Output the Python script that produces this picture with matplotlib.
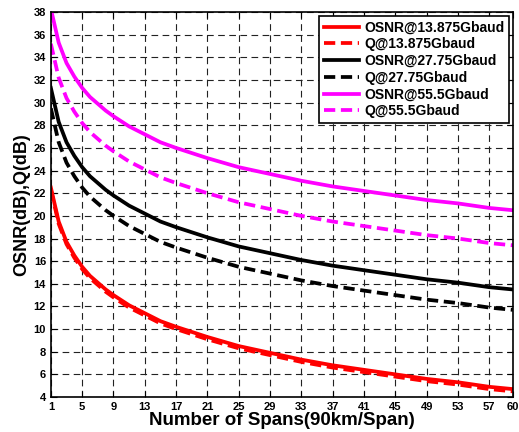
import matplotlib
matplotlib.use('Agg')
import matplotlib.pyplot as plt

plt.rcParams['font.family'] = ['Liberation Sans', 'DejaVu Sans']
plt.rcParams['font.weight'] = 'bold'

spans = [1, 2, 3, 4, 5, 6, 7, 8, 9, 11, 13, 15, 17, 21, 25, 29, 33, 37, 41, 45, 49, 53, 57, 60]

osnr_13 = [22.5, 19.5, 17.7, 16.5, 15.5, 14.7, 14.1, 13.5, 13.0, 12.1, 11.4, 10.7, 10.2,
           9.3, 8.5, 7.9, 7.3, 6.8, 6.4, 6.0, 5.6, 5.3, 4.9, 4.7]
q_13 = [22.3, 19.3, 17.5, 16.3, 15.3, 14.5, 13.9, 13.3, 12.8, 11.9, 11.2, 10.5, 10.0,
        9.1, 8.3, 7.7, 7.1, 6.6, 6.2, 5.8, 5.4, 5.1, 4.7, 4.5]
osnr_27 = [31.3, 28.3, 26.5, 25.3, 24.3, 23.5, 22.9, 22.3, 21.8, 20.9, 20.2, 19.5, 19.0,
           18.1, 17.3, 16.7, 16.1, 15.6, 15.2, 14.8, 14.4, 14.1, 13.7, 13.5]
q_27 = [29.5, 26.5, 24.7, 23.5, 22.5, 21.7, 21.1, 20.5, 20.0, 19.1, 18.4, 17.7, 17.2,
        16.3, 15.5, 14.9, 14.3, 13.8, 13.4, 13.0, 12.6, 12.3, 11.9, 11.7]
osnr_55 = [38.3, 35.3, 33.5, 32.3, 31.3, 30.5, 29.9, 29.3, 28.8, 27.9, 27.2, 26.5, 26.0,
           25.1, 24.3, 23.7, 23.1, 22.6, 22.2, 21.8, 21.4, 21.1, 20.7, 20.5]
q_55 = [35.2, 32.2, 30.4, 29.2, 28.2, 27.4, 26.8, 26.2, 25.7, 24.8, 24.1, 23.4, 22.9,
        22.0, 21.2, 20.6, 20.0, 19.5, 19.1, 18.7, 18.3, 18.0, 17.6, 17.4]

xticks = [1, 5, 9, 13, 17, 21, 25, 29, 33, 37, 41, 45, 49, 53, 57, 60]
yticks = list(range(4, 39, 2))

fig = plt.figure(figsize=(5.19, 4.32), dpi=100)
ax = fig.add_axes([0.098, 0.081, 0.89, 0.891])

lw = 2.7
dash = (0, (3, 1.5))
ax.plot(spans, osnr_13, color='#ff0000', lw=lw, label='OSNR@13.875Gbaud')
ax.plot(spans, q_13, color='#ff0000', lw=lw, ls=dash, label='Q@13.875Gbaud')
ax.plot(spans, osnr_27, color='black', lw=lw, label='OSNR@27.75Gbaud')
ax.plot(spans, q_27, color='black', lw=lw, ls=dash, label='Q@27.75Gbaud')
ax.plot(spans, osnr_55, color='#ff00ff', lw=lw, label='OSNR@55.5Gbaud')
ax.plot(spans, q_55, color='#ff00ff', lw=lw, ls=dash, label='Q@55.5Gbaud')

ax.set_xlim(1, 60)
ax.set_ylim(4, 38)
ax.set_xticks(xticks)
ax.set_yticks(yticks)
ax.tick_params(direction='in', top=True, right=True, labelsize=8, length=4)
for lab in ax.get_xticklabels() + ax.get_yticklabels():
    lab.set_fontweight('bold')
ax.grid(True, color='#222222', ls=(0, (6, 4)), lw=0.8)
for s in ax.spines.values():
    s.set_linewidth(1.2)

ax.set_xlabel('Number of Spans(90km/Span)', fontsize=13.5, fontweight='bold', labelpad=0)
ax.set_ylabel('OSNR(dB),Q(dB)', fontsize=13, fontweight='bold', labelpad=2)

leg = ax.legend(loc='upper right', fontsize=10, fancybox=False, framealpha=1,
                edgecolor='black', handlelength=2.5, borderaxespad=0.25,
                labelspacing=0.2, handletextpad=0.4, borderpad=0.35)
leg.get_frame().set_linewidth(1.2)
for t in leg.get_texts():
    t.set_fontweight('bold')

fig.savefig('out.png', dpi=100)
